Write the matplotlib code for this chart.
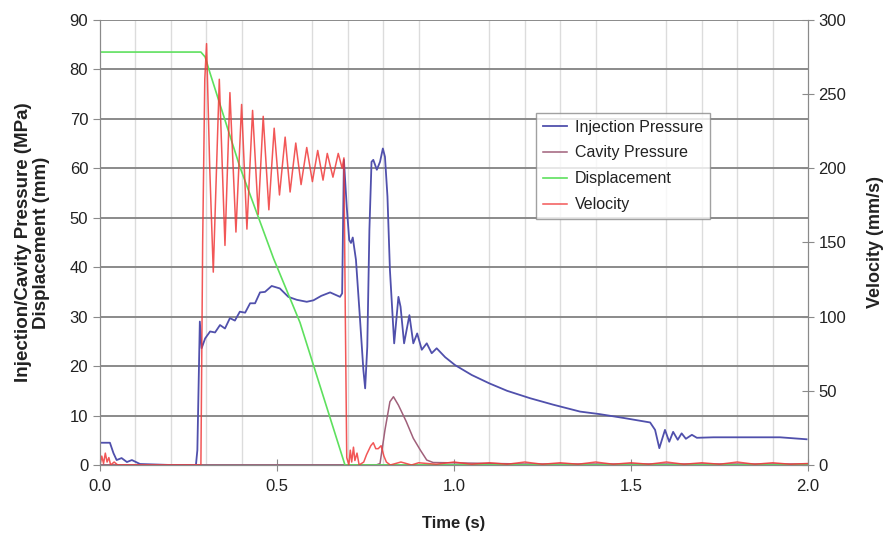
import matplotlib
matplotlib.use("Agg")
import matplotlib.pyplot as plt
from matplotlib.ticker import MultipleLocator

plt.rcParams['font.family'] = ['Liberation Sans', 'DejaVu Sans']

# ---------------- data ----------------
inj_t = [0.0, 0.005, 0.028, 0.038, 0.047, 0.061, 0.076, 0.09, 0.113, 0.2, 0.271, 0.275, 0.282, 0.287,
         0.297, 0.311, 0.325, 0.339, 0.353, 0.367, 0.381, 0.395, 0.41, 0.424, 0.438, 0.452, 0.466,
         0.485, 0.508, 0.532, 0.556, 0.584, 0.603, 0.625, 0.65, 0.678, 0.684, 0.689, 0.697, 0.704,
         0.709, 0.714, 0.723, 0.734, 0.744, 0.749, 0.755, 0.761, 0.767, 0.772, 0.782, 0.791, 0.799,
         0.805, 0.812, 0.819, 0.831, 0.843, 0.849, 0.859, 0.874, 0.885, 0.896, 0.909, 0.923, 0.937,
         0.951, 0.975, 1.003, 1.05, 1.1, 1.15, 1.215, 1.28, 1.356, 1.41, 1.48, 1.554, 1.568, 1.58,
         1.596, 1.608, 1.619, 1.632, 1.643, 1.655, 1.672, 1.686, 1.733, 1.8, 1.921, 1.996]
inj_p = [4.5, 4.5, 4.5, 2.4, 1.0, 1.4, 0.6, 1.0, 0.2, 0.0, 0.0, 3.0, 29.0, 23.6,
         25.6, 27.0, 26.8, 28.3, 27.6, 29.7, 29.2, 31.0, 30.8, 32.7, 32.7, 34.9, 35.0,
         36.2, 35.7, 34.0, 33.4, 33.0, 33.3, 34.2, 34.9, 34.0, 34.7, 61.7, 52.2, 45.5,
         44.9, 46.0, 41.5, 30.0, 19.2, 15.5, 23.9, 47.5, 61.3, 61.7, 59.7, 61.3, 64.0,
         62.3, 54.3, 39.4, 24.6, 34.0, 32.0, 24.6, 30.3, 24.6, 26.6, 23.3, 24.6, 22.6,
         23.6, 21.8, 20.2, 18.2, 16.5, 15.0, 13.5, 12.2, 10.8, 10.3, 9.5, 8.6, 7.1, 3.4,
         7.1, 4.7, 6.7, 5.1, 6.4, 5.3, 6.1, 5.5, 5.6, 5.6, 5.6, 5.2]

cav_t = [0.0, 0.78, 0.791, 0.805, 0.819, 0.829, 0.843, 0.865, 0.885, 0.905, 0.923, 0.941, 1.2, 2.0]
cav_p = [0.0, 0.0, 0.3, 7.1, 12.8, 13.8, 12.1, 8.8, 5.4, 3.0, 1.0, 0.5, 0.2, 0.2]

disp_t = [0.0, 0.285, 0.297, 0.311, 0.395, 0.49, 0.565, 0.692, 2.0]
disp_d = [83.5, 83.5, 82.5, 79.2, 60.3, 41.8, 28.8, 0.0, 0.0]

vel_t = [0.0, 0.005, 0.01, 0.015, 0.02, 0.025, 0.03, 0.04, 0.05, 0.27, 0.285, 0.29, 0.296, 0.301,
         0.31, 0.320, 0.337, 0.353, 0.367, 0.384, 0.400, 0.415, 0.431, 0.447, 0.461, 0.477, 0.492,
         0.507, 0.523, 0.537, 0.553, 0.568, 0.584, 0.600, 0.615, 0.630, 0.642, 0.658, 0.673, 0.684,
         0.689, 0.693, 0.697, 0.703, 0.707, 0.711, 0.716, 0.72, 0.726, 0.732, 0.745, 0.753, 0.765,
         0.772, 0.779, 0.786, 0.794, 0.802, 0.809, 0.82, 0.85, 0.88, 0.9, 0.95, 1.0, 1.05, 1.1,
         1.15, 1.2, 1.25, 1.3, 1.35, 1.4, 1.45, 1.5, 1.55, 1.6, 1.65, 1.7, 1.75, 1.8, 1.85, 1.9,
         1.95, 2.0]
vel_v = [0.0, 6.0, 1.0, 8.0, 2.0, 5.0, 0.0, 2.0, 0.0, 0.0, 0.0, 150.0, 260.0, 284.0,
         200.0, 130.0, 260.0, 148.0, 251.0, 157.0, 243.0, 159.0, 239.0, 169.0, 235.0, 172.0, 227.0,
         182.0, 221.0, 184.0, 217.0, 189.0, 214.0, 191.0, 212.0, 192.0, 210.0, 194.0, 210.0, 200.0,
         207.0, 100.0, 5.0, 0.0, 10.0, 2.0, 12.0, 3.0, 8.0, 0.0, 2.0, 7.0, 13.0,
         15.0, 11.0, 11.0, 13.0, 6.0, 2.0, 0.0, 2.0, 0.0, 1.5, 0.5, 2.0, 0.5, 1.5,
         0.5, 2.0, 0.5, 1.5, 0.5, 2.0, 0.5, 1.5, 0.5, 2.0, 0.5, 1.5, 0.5, 2.0, 0.5, 1.5,
         0.5, 1.0]

x_ticks = [0.0, 0.5, 1.0, 1.5, 2.0]
y_ticks = list(range(0, 91, 10))
v_ticks = list(range(0, 301, 50))

# ---------------- plot ----------------
fig = plt.figure(figsize=(8.85, 5.38), dpi=100)
ax = fig.add_axes([0.113, 0.1357, 0.8, 0.8273])
ax2 = ax.twinx()

c_inj = '#5050ac'
c_cav = '#a0607a'
c_disp = '#5ee05e'
c_vel = '#f03a3a'

l1, = ax.plot(inj_t, inj_p, color=c_inj, lw=1.3, label='Injection Pressure', zorder=3)
l2, = ax.plot(cav_t, cav_p, color=c_cav, lw=1.1, label='Cavity Pressure', zorder=3)
l3, = ax.plot(disp_t, disp_d, color=c_disp, lw=1.2, label='Displacement', zorder=3)
l4, = ax2.plot(vel_t, vel_v, color=c_vel, lw=1.1, label='Velocity', alpha=0.85)

ax.set_xlim(0, 2.0)
ax.set_ylim(0, 90)
ax2.set_ylim(0, 300)
ax.set_xticks(x_ticks)
ax.set_xticklabels([f'{v:.1f}' for v in x_ticks])
ax.set_yticks(y_ticks)
ax2.set_yticks(v_ticks)
ax.xaxis.set_minor_locator(MultipleLocator(0.1))

ax.grid(axis='y', which='major', color='#8a8a8a', lw=1.4, zorder=1)
ax.grid(axis='x', which='minor', color='#dcdcdc', lw=1.0, zorder=0)
ax.set_axisbelow(True)

for a in (ax, ax2):
    for s in a.spines.values():
        s.set_color('#8a8a8a')
    a.spines['top'].set_visible(False)

ax.tick_params(axis='both', which='major', labelsize=12, colors='#8a8a8a',
               labelcolor='#222222', length=5)
ax.tick_params(axis='x', which='major', direction='inout', length=8, pad=6)
ax.tick_params(axis='x', which='minor', length=0)
ax2.tick_params(axis='y', labelsize=12, colors='#8a8a8a', labelcolor='#222222',
                direction='inout', length=8)

ax.set_xlabel('Time (s)', fontsize=12, fontweight='bold', color='#222222', labelpad=16)
ax.set_ylabel('Injection/Cavity Pressure (MPa)\nDisplacement (mm)', fontsize=13.5,
              fontweight='bold', color='#222222', labelpad=14, linespacing=1.1)
ax2.set_ylabel('Velocity (mm/s)', fontsize=13, fontweight='bold', color='#222222', labelpad=15)

leg = ax2.legend(handles=[l1, l2, l3, l4], loc='upper left', bbox_to_anchor=(0.616, 0.791),
                 borderaxespad=0, fontsize=11.5, frameon=True, fancybox=False, handlelength=1.5,
                 handletextpad=0.5, labelspacing=0.68, borderpad=0.42)
leg.get_frame().set_edgecolor('#8a8a8a')
leg.get_frame().set_linewidth(1.0)
for t in leg.get_texts():
    t.set_color('#222222')

fig.savefig('out.png', dpi=100)
